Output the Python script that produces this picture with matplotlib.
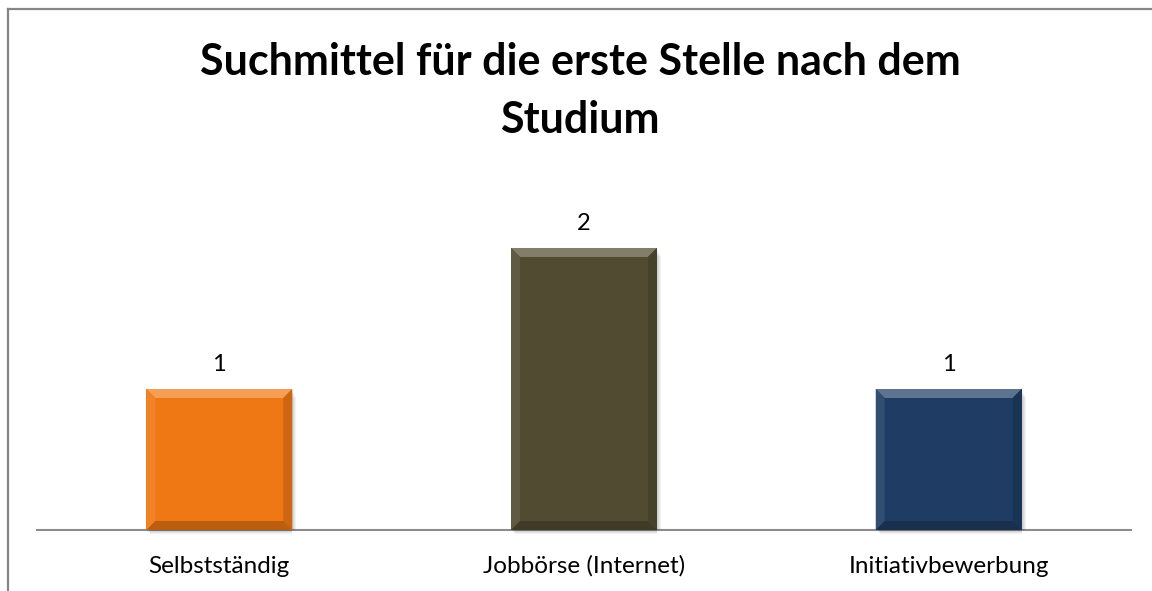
import numpy as np
import matplotlib
matplotlib.use("Agg")
from matplotlib import pyplot as plt
from matplotlib.patches import Polygon
from matplotlib.lines import Line2D
from matplotlib.colors import to_rgb

categories = ["Selbstständig", "Jobbörse (Internet)", "Initiativbewerbung"]
values = [1, 2, 1]
colors = ["#F07814", "#514C31", "#1F3D64"]
title = "Suchmittel für die erste Stelle nach dem\nStudium"

plt.rcParams['font.family'] = ['Lato', 'DejaVu Sans']

fig = plt.figure(figsize=(11.52, 5.91), dpi=100)
ax = fig.add_axes([0.0321, 0.1032, 0.9497, 0.5965])

x = np.arange(len(categories))
bars = ax.bar(x, values, width=0.40, color=colors, zorder=3)

ax.set_xlim(-0.5, len(categories) - 0.5)
ax.set_ylim(0, 2.5)
ax.set_yticks([])
ax.set_xticks(x)
ax.set_xticklabels(categories, fontsize=17.5)
ax.tick_params(axis='x', length=0, pad=31)
for lab in ax.get_xticklabels():
    lab.set_va('baseline')
for side in ["left", "right", "top"]:
    ax.spines[side].set_visible(False)
ax.spines["bottom"].set_color("#8c8c8c")
ax.spines["bottom"].set_linewidth(1.5)
ax.spines["bottom"].set_zorder(2)

# bevel look like the office chart
fig.canvas.draw()
px = ax.transData.transform([(0, 0), (1, 1)])
ux = 1.0 / (px[1, 0] - px[0, 0])
uy = 1.0 / (px[1, 1] - px[0, 1])
b = 9
for i, bar in enumerate(bars):
    rgb = np.array(to_rgb(colors[i]))
    light = tuple(rgb + (1 - rgb) * 0.28)
    lighter = tuple(rgb + (1 - rgb) * 0.08)
    dark = tuple(rgb * 0.85)
    darker = tuple(rgb * 0.78)
    x0, x1 = bar.get_x(), bar.get_x() + bar.get_width()
    y0, y1 = 0, bar.get_height()
    bx, by = b * ux, b * uy
    ax.add_patch(Polygon([(x0, y1), (x1, y1), (x1 - bx, y1 - by), (x0 + bx, y1 - by)],
                         closed=True, color=light, lw=0, zorder=4))
    ax.add_patch(Polygon([(x0, y1), (x0 + bx, y1 - by), (x0 + bx, y0 + by), (x0, y0)],
                         closed=True, color=lighter, lw=0, zorder=4))
    ax.add_patch(Polygon([(x1, y1), (x1 - bx, y1 - by), (x1 - bx, y0 + by), (x1, y0)],
                         closed=True, color=dark, lw=0, zorder=4))
    ax.add_patch(Polygon([(x0, y0), (x0 + bx, y0 + by), (x1 - bx, y0 + by), (x1, y0)],
                         closed=True, color=darker, lw=0, zorder=4))
    for k in range(1, 5):
        ax.add_patch(Polygon([(x0 + k * ux, y0), (x1 + k * ux, y0), (x1 + k * ux, y1 - k * 2 * uy),
                              (x1, y1 - k * 2 * uy), (x1, y0 - k * uy), (x0 + k * ux, y0 - k * uy)],
                             closed=True, color="black", alpha=0.05, lw=0, zorder=2.5, clip_on=False))
    ax.text(x[i], y1 + 18 * uy, str(values[i]), ha='center', va='baseline', fontsize=17)

fig.text(0.5035, 1 - 133 / 591, title, ha='center', va='baseline', fontsize=31,
         fontweight='bold', linespacing=1.56)

# frame of the chart object
fig.add_artist(Line2D([8 / 1152, 1], [1 - 9 / 591, 1 - 9 / 591], color="#868686", lw=1.6))
fig.add_artist(Line2D([8 / 1152, 8 / 1152], [0, 1 - 9 / 591], color="#868686", lw=1.6))

fig.savefig("out.png", dpi=100)
